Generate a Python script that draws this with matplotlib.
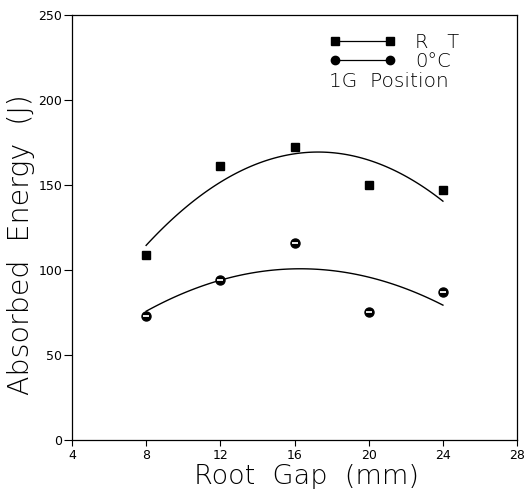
import matplotlib.pyplot as plt
import numpy as np
from matplotlib.lines import Line2D

# data
root_gap = [8, 12, 16, 20, 24]
energy_rt = [109, 161, 172, 150, 147]
energy_0c = [73, 94, 116, 75, 87]

x_ticks = [4, 8, 12, 16, 20, 24, 28]
y_ticks = [0, 50, 100, 150, 200, 250]

plt.rcParams['font.family'] = 'DejaVu Sans'

fig = plt.figure(figsize=(5.25, 4.92), dpi=100)
ax = fig.add_axes([0.137, 0.106, 0.848, 0.864])

# quadratic fits drawn through the points
xs = np.linspace(8, 24, 100)
for y in (energy_rt, energy_0c):
    c = np.polyfit(root_gap, y, 2)
    ax.plot(xs, np.polyval(c, xs), 'k-', lw=1.0)

ax.plot(root_gap, energy_rt, 's', color='k', ms=6, ls='none')
ax.plot(root_gap, energy_0c, 'o', color='k', ms=6.5, ls='none')
ax.plot(root_gap, energy_0c, '_', color='w', ms=4, mew=1.3, ls='none')

ax.set_xlim(4, 28)
ax.set_ylim(0, 250)
ax.set_xticks(x_ticks)
ax.set_yticks(y_ticks)
ax.tick_params(direction='out', width=0.8, labelsize=9, pad=2)
ax.tick_params(axis='x', length=4, pad=2.5)
ax.tick_params(axis='y', length=6, pad=1)
for s in ax.spines.values():
    s.set_linewidth(0.9)

ax.set_xlabel('Root  Gap  (mm)', fontsize=19.5, fontweight='light')
ax.set_ylabel('Absorbed  Energy  (J)', fontsize=20.5, fontweight='light')
ax.xaxis.set_label_coords(0.526, -0.056, transform=ax.transAxes)
ax.xaxis.label.set_va('top')
ax.yaxis.set_label_coords(-0.083, 0.46, transform=ax.transAxes)

h_rt = Line2D([], [], color='k', lw=0.9, marker='s', ms=6)
h_0c = Line2D([], [], color='k', lw=0.9, marker='o', ms=6)
leg = ax.legend([h_rt, h_0c], ['R   T', '0°C'], loc='upper left', numpoints=2,
                handlelength=3.4, handletextpad=1.0, frameon=False,
                bbox_to_anchor=(0.578, 0.958), borderaxespad=0, borderpad=0,
                labelspacing=0.0, prop={'weight': 'light', 'size': 14})
ax.text(0.578, 0.842, '1G  Position', transform=ax.transAxes, ha='left',
        va='center', fontsize=14.5, fontweight='light')

fig.savefig('out.png', dpi=100)
